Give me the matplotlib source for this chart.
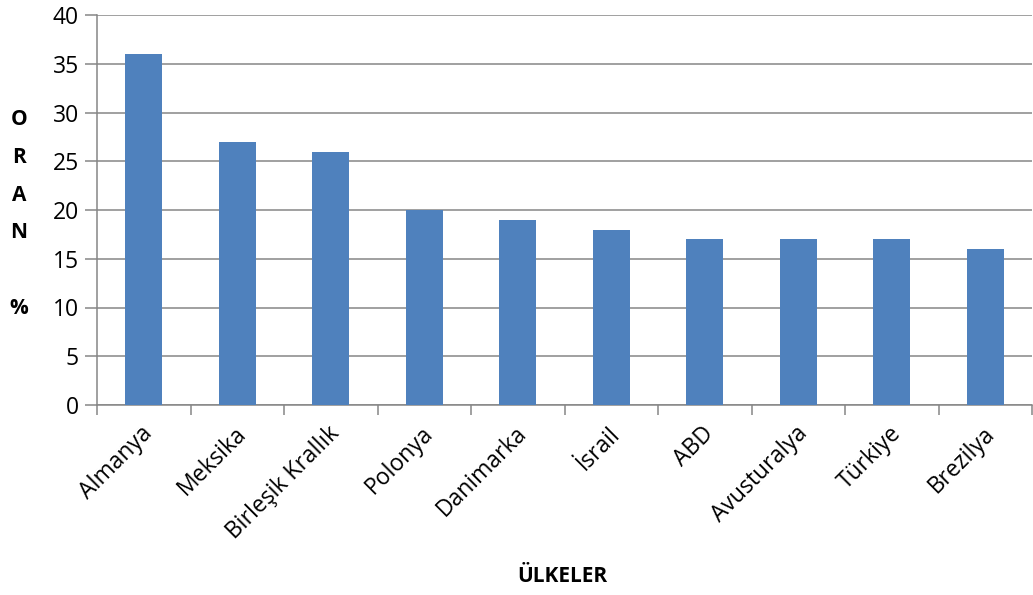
import matplotlib
matplotlib.use("Agg")
import matplotlib.pyplot as plt
import numpy as np

countries = ["Almanya", "Meksika", "Birleşik Krallık", "Polonya", "Danimarka",
             "İsrail", "ABD", "Avusturalya", "Türkiye", "Brezilya"]
rates = [36, 27, 26, 20, 19, 18, 17, 17, 17, 16]
y_ticks = [0, 5, 10, 15, 20, 25, 30, 35, 40]

plt.rcParams["font.family"] = ["Open Sans", "DejaVu Sans"]

fig = plt.figure(figsize=(10.33, 5.95), dpi=100)
ax = fig.add_axes([97 / 1033, 1 - 405 / 595, 935 / 1033, 390 / 595])

grid_c = "#868686"
bar_c = "#4F81BD"

x = np.arange(len(countries))
ax.bar(x, rates, width=0.4, color=bar_c, zorder=3)

ax.set_xlim(-0.5, len(countries) - 0.5)
ax.set_ylim(0, 40)
ax.set_yticks(y_ticks)
ax.set_yticklabels([str(v) for v in y_ticks], fontsize=16.5)
ax.yaxis.grid(True, color=grid_c, linewidth=1.1, zorder=0)
ax.tick_params(axis="y", length=9, width=1.1, color=grid_c, pad=4)

# category separators as tick marks on the bottom axis
ax.set_xticks(np.arange(len(countries) + 1) - 0.5)
ax.set_xticklabels([])
ax.tick_params(axis="x", length=7, width=1.1, color=grid_c, direction="out")
for xi, name in zip(x, countries):
    ax.text(xi + 0.06, -2.6, name, rotation=45, ha="right", va="center",
            rotation_mode="anchor", fontsize=16.5, transform=ax.transData)

for s in ["top", "right"]:
    ax.spines[s].set_visible(False)
for s in ["left", "bottom"]:
    ax.spines[s].set_color(grid_c)
    ax.spines[s].set_linewidth(1.1)

fig.text(19 / 1033, 1 - 214 / 595, "O\nR\nA\nN\n\n%", ha="center", va="center",
         fontsize=15, fontweight="bold", linespacing=2.05)
fig.text(562 / 1033, 1 - 577 / 595, "ÜLKELER", ha="center", va="center",
         fontsize=15, fontweight="bold")

fig.savefig("out.png", dpi=100)
